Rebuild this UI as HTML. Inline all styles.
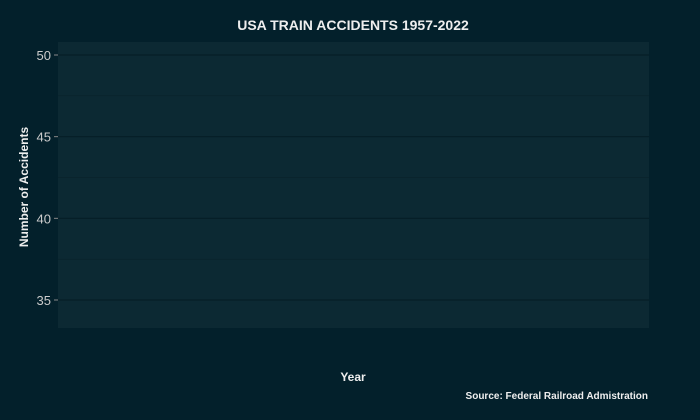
<!DOCTYPE html>
<html><head><meta charset="utf-8"><style>
body{margin:0;background:#03202b;}
svg{display:block;font-family:"Liberation Sans",sans-serif;}
</style></head><body>
<svg width="700" height="420">
<rect width="700" height="420" fill="#03202b"/>
<rect x="58" y="42" width="591" height="286" fill="#0c2933"/>
<g id="grid"></g>
<g id="axis"></g>
<g id="marks"></g>
<text x="353" y="30" text-anchor="middle" fill="#eeeeee" font-size="14" font-weight="bold">USA TRAIN ACCIDENTS 1957-2022</text>
<text x="353" y="381" text-anchor="middle" fill="#eeeeee" font-size="12" font-weight="bold">Year</text>
<text transform="translate(28,187) rotate(-90)" text-anchor="middle" fill="#eeeeee" font-size="12" font-weight="bold">Number of Accidents</text>
<text x="648" y="399" text-anchor="end" fill="#eeeeee" font-size="10" font-weight="bold">Source: Federal Railroad Admistration</text>
</svg>
<script>
const years = [];
const accidents = [];
const yTicks = [35, 40, 45, 50];
const yMinor = [37.5, 42.5, 47.5];
const ns = "http://www.w3.org/2000/svg";
function y(v){ return 300 - (v - 35) * (245/15); }
function x(v){ return 58 + (v - 1957) / (2022 - 1957) * 591; }
const grid = document.getElementById('grid'), axis = document.getElementById('axis'), marks = document.getElementById('marks');
yMinor.forEach(v=>{
  const l=document.createElementNS(ns,'line');
  
  
  l.setAttribute('x1',58);l.setAttribute('x2',649);l.setAttribute('y1',y(v));l.setAttribute('y2',y(v));
  l.setAttribute('stroke','#082129');l.setAttribute('stroke-width','0.6');
  grid.appendChild(l);
});
yTicks.forEach(v=>{
  const l=document.createElementNS(ns,'line');
  
  
  l.setAttribute('x1',58);l.setAttribute('x2',649);l.setAttribute('y1',y(v));l.setAttribute('y2',y(v));
  l.setAttribute('stroke','#061e27');l.setAttribute('stroke-width','1.2');
  grid.appendChild(l);
  const t=document.createElementNS(ns,'line');
  
  
  t.setAttribute('x1',54);t.setAttribute('x2',58);t.setAttribute('y1',y(v));t.setAttribute('y2',y(v));
  t.setAttribute('stroke','#888');
  axis.appendChild(t);
  const tx=document.createElementNS(ns,'text');
  
  
  tx.setAttribute('x',51);tx.setAttribute('y',y(v)+5);tx.setAttribute('text-anchor','end');
  tx.setAttribute('fill','#cccccc');tx.setAttribute('font-size','13');
  tx.textContent=v;
  axis.appendChild(tx);
});
if(years.length){
  const p=document.createElementNS(ns,'polyline');
  
  
  p.setAttribute('points',years.map((yr,i)=>x(yr)+','+y(accidents[i])).join(' '));
  p.setAttribute('fill','none');p.setAttribute('stroke','#e0a030');p.setAttribute('stroke-width','2');
  marks.appendChild(p);
}
</script>
</body></html>
